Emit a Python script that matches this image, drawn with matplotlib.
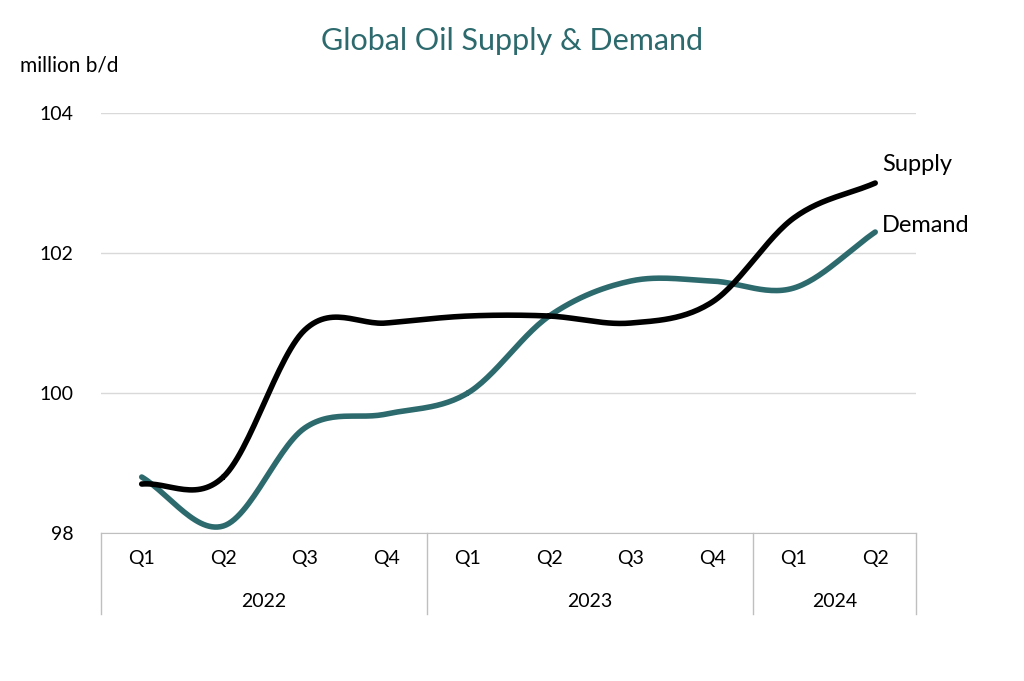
import numpy as np
import matplotlib
matplotlib.use('Agg')
import matplotlib.pyplot as plt

plt.rcParams['font.family'] = ['Lato', 'DejaVu Sans']

quarters = ['Q1', 'Q2', 'Q3', 'Q4', 'Q1', 'Q2', 'Q3', 'Q4', 'Q1', 'Q2']
years = ['2022', '2023', '2024']
year_sizes = [4, 4, 2]
supply = [98.7, 98.8, 100.9, 101.0, 101.1, 101.1, 101.0, 101.3, 102.5, 103.0]
demand = [98.8, 98.1, 99.5, 99.7, 100.0, 101.1, 101.6, 101.6, 101.5, 102.3]

TEAL = '#2c6a6e'


def smooth(y, n=30):
    # Catmull-Rom curve through the points, like Excel's smoothed line
    y = np.asarray(y, float)
    x = np.arange(len(y), dtype=float)
    px = np.concatenate([[2 * x[0] - x[1]], x, [2 * x[-1] - x[-2]]])
    py = np.concatenate([[2 * y[0] - y[1]], y, [2 * y[-1] - y[-2]]])
    xs, ys = [], []
    t = np.linspace(0, 1, n)
    for i in range(1, len(px) - 2):
        for p, out in ((px, xs), (py, ys)):
            p0, p1, p2, p3 = p[i - 1], p[i], p[i + 1], p[i + 2]
            out.extend(0.5 * (2 * p1 + (-p0 + p2) * t
                              + (2 * p0 - 5 * p1 + 4 * p2 - p3) * t ** 2
                              + (-p0 + 3 * p1 - 3 * p2 + p3) * t ** 3))
    return np.array(xs), np.array(ys)


fig = plt.figure(figsize=(10.24, 6.81), dpi=100)
ax = fig.add_axes([0.0986, 0.2173, 0.7959, 0.6167])

for s, c in ((demand, TEAL), (supply, 'black')):
    sx, sy = smooth(s)
    ax.plot(sx, sy, color=c, lw=4, solid_capstyle='round', zorder=3)

ax.text(len(supply) - 1 + 0.08, supply[-1] + 0.27, 'Supply', fontsize=17, va='center')
ax.text(len(demand) - 1 + 0.08, demand[-1] + 0.1, 'Demand', fontsize=17, va='center')

ax.set_xlim(-0.5, len(quarters) - 0.5)
ax.set_ylim(98, 104)
ax.set_yticks([98, 100, 102, 104])
ax.yaxis.grid(True, color='#d9d9d9', lw=1)
ax.set_axisbelow(True)
for sp in ['top', 'right', 'left']:
    ax.spines[sp].set_visible(False)
ax.spines['bottom'].set_color('#bfbfbf')
ax.tick_params(axis='y', length=0, labelsize=14, pad=20)
ax.set_xticks(range(len(quarters)))
ax.set_xticklabels(quarters, fontsize=14)
ax.tick_params(axis='x', length=0, pad=12)

# year groups below the quarter labels
trans = ax.get_xaxis_transform()
start = -0.5
bounds = [start]
for yr, n in zip(years, year_sizes):
    ax.text(start + n / 2, -0.164, yr, transform=trans, ha='center', va='center', fontsize=14)
    start += n
    bounds.append(start)
for b in bounds:
    ax.plot([b, b], [0, -0.193], transform=trans, color='#bfbfbf', lw=1, clip_on=False)

fig.text(0.02, 0.895, 'million b/d', fontsize=15)
fig.text(0.5, 0.94, 'Global Oil Supply & Demand', fontsize=22, color=TEAL, ha='center', va='center')

fig.savefig('out.png', dpi=100)
